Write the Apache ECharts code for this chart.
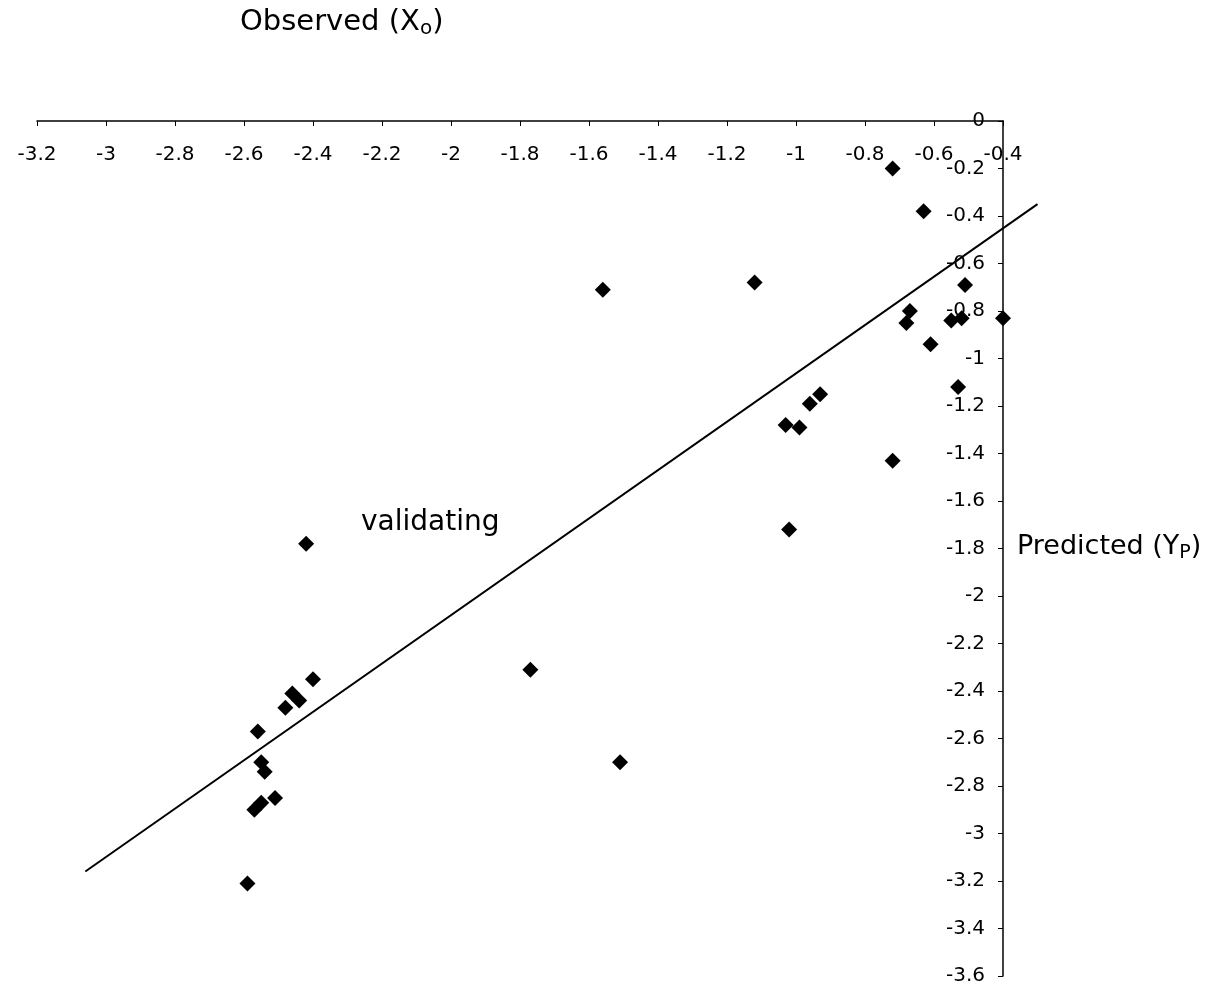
<!DOCTYPE html>
<html>
<head>
<meta charset="utf-8">
<script src="https://cdn.jsdelivr.net/npm/echarts@6/dist/echarts.min.js"></script>
<style>
  html, body { margin: 0; padding: 0; background: #fff; }
  #chart { width: 1216px; height: 989px; }
</style>
</head>
<body>
<div id="chart"></div>
<script>
// observed (x) and predicted (y) pairs
const observed = [
  -0.72, -0.63, -1.56, -1.12, -0.51, -0.67, -0.68, -0.55, -0.52, -0.40,
  -0.61, -0.53, -0.93, -0.96, -1.03, -0.99, -0.72, -1.02, -2.42, -1.77,
  -2.40, -2.46, -2.44, -2.48, -2.56, -2.55, -2.54, -2.51, -2.55, -2.57,
  -1.51, -2.59
];
const predicted = [
  -0.20, -0.38, -0.71, -0.68, -0.69, -0.80, -0.85, -0.84, -0.83, -0.83,
  -0.94, -1.12, -1.15, -1.19, -1.28, -1.29, -1.43, -1.72, -1.78, -2.31,
  -2.35, -2.41, -2.44, -2.47, -2.57, -2.70, -2.74, -2.85, -2.87, -2.90,
  -2.70, -3.21
];

// fitted line end points (it runs a bit past the right axis)
const trendX = [-3.06, -0.30];
const trendY = [-3.16, -0.35];

const chart = echarts.init(document.getElementById('chart'));

const font = 'DejaVu Sans';
const txt = (size, extra) => Object.assign(
  { fontFamily: font, fontSize: size, fontWeight: 'normal', color: '#000', lineHeight: 34 }, extra || {});

const option = {
  animation: false,
  backgroundColor: '#fff',
  title: [
    {
      left: 240, top: 5, padding: 0,
      text: '{a|Observed (X}{b|o}{a|)}',
      textStyle: { rich: { a: txt(29), b: txt(20, { padding: [14, 0, 0, 0] }) } }
    },
    {
      left: 1017, top: 530, padding: 0,
      text: '{a|Predicted (Y}{b|P}{a|)}',
      textStyle: { rich: { a: txt(27), b: txt(19, { padding: [12, 0, 0, 0] }) } }
    },
    {
      left: 361, top: 509, padding: 0,
      text: 'validating',
      textStyle: { fontFamily: font, fontSize: 28, fontWeight: 'normal', color: '#000' }
    }
  ],
  grid: [
    { left: 37, right: 213, top: 121, bottom: 13 },
    // same scale, wider to the right, only for the fitted line
    { left: 37, right: 178.5, top: 121, bottom: 13 }
  ],
  xAxis: [
    {
      type: 'value',
      position: 'top',
      min: -3.2,
      max: -0.4,
      interval: 0.2,
      axisLine: { onZero: false, lineStyle: { color: '#000', width: 1.5 } },
      axisTick: { inside: true, length: 5, lineStyle: { color: '#000' } },
      axisLabel: { inside: true, margin: 24, fontFamily: font, fontSize: 20, color: '#000' },
      splitLine: { show: false }
    },
    { gridIndex: 1, type: 'value', min: -3.2, max: -0.3, show: false }
  ],
  yAxis: [
    {
      type: 'value',
      position: 'right',
      min: -3.6,
      max: 0,
      interval: 0.2,
      axisLine: { onZero: false, lineStyle: { color: '#000', width: 1.5 } },
      axisTick: { inside: true, length: 5, lineStyle: { color: '#000' } },
      axisLabel: { inside: true, margin: 18, fontFamily: font, fontSize: 20, color: '#000' },
      splitLine: { show: false }
    },
    { gridIndex: 1, type: 'value', min: -3.6, max: 0, show: false }
  ],
  series: [
    {
      type: 'line',
      xAxisIndex: 1,
      yAxisIndex: 1,
      data: trendX.map((x, i) => [x, trendY[i]]),
      showSymbol: false,
      lineStyle: { color: '#000', width: 2 },
      z: 1
    },
    {
      type: 'scatter',
      data: observed.map((x, i) => [x, predicted[i]]),
      symbol: 'diamond',
      symbolSize: 16,
      itemStyle: { color: '#000', opacity: 1 },
      z: 2
    }
  ]
};

chart.setOption(option);
</script>
</body>
</html>
